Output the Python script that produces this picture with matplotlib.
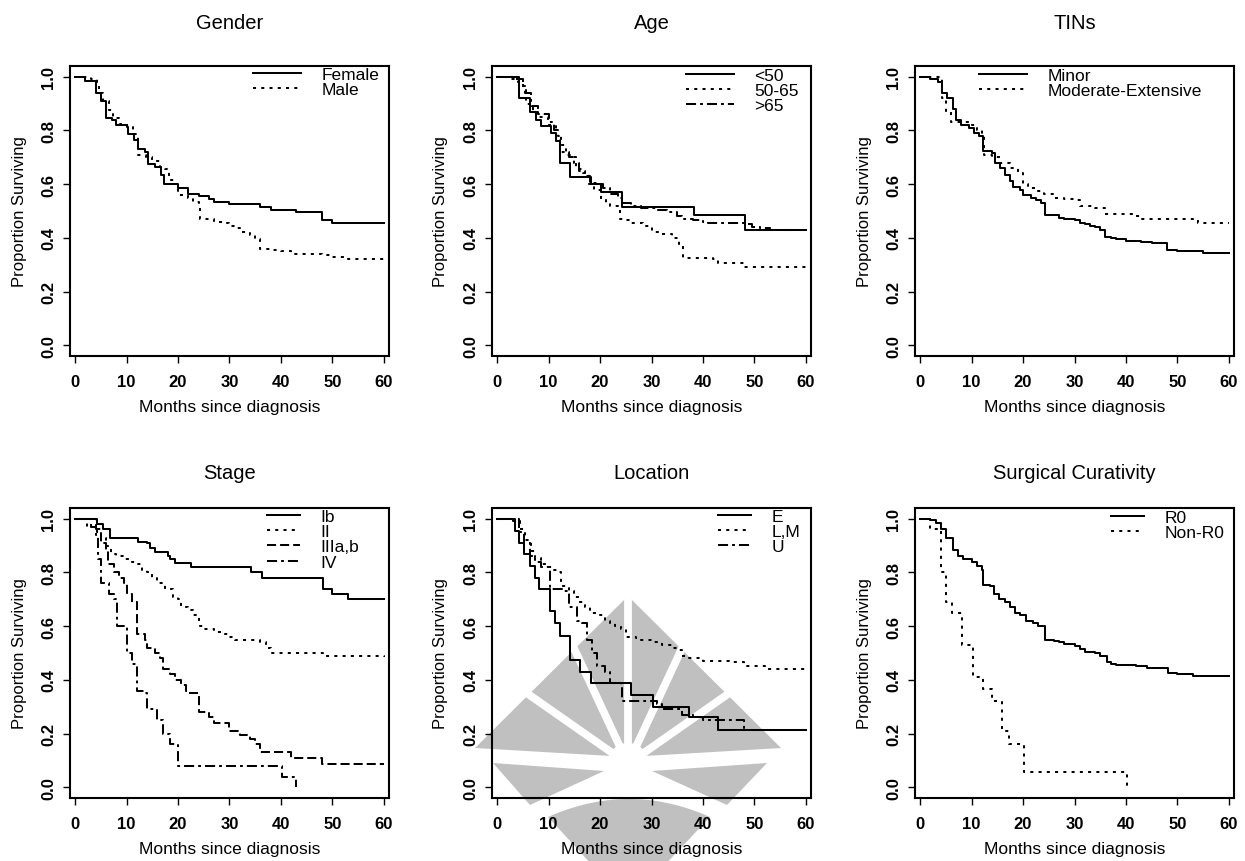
import numpy as np
import matplotlib
matplotlib.use("Agg")
import matplotlib.pyplot as plt
from matplotlib.patches import Polygon
from matplotlib.lines import Line2D

plt.rcParams['font.family'] = ['Liberation Sans', 'DejaVu Sans']

# ---------------- data (months, proportion surviving; step after each time) ----------------
female_t = [0, 2, 4.0, 5.0, 5.9, 7.2, 8.0, 10.0, 10.2, 11.5, 12.2, 13.5, 14.2, 15.5, 16.7, 17.2, 20, 22, 24, 26, 27, 30, 36, 38, 43, 48, 50, 60]
female_s = [1.0, 0.984, 0.938, 0.909, 0.847, 0.838, 0.822, 0.813, 0.785, 0.765, 0.73, 0.72, 0.675, 0.665, 0.635, 0.60, 0.585, 0.565, 0.555, 0.545, 0.535, 0.525, 0.515, 0.505, 0.495, 0.465, 0.455, 0.455]
male_t = [0, 3, 4.3, 4.6, 5.5, 6.5, 7.3, 8.5, 10, 11.2, 12.2, 13.8, 15, 16.5, 17.5, 18.2, 19.5, 20, 22, 23, 24, 24.2, 27, 29, 30, 31, 32, 34, 35, 36, 38.5, 40, 42, 48, 50, 53, 60]
male_s = [1.0, 0.99, 0.98, 0.94, 0.91, 0.875, 0.845, 0.825, 0.815, 0.785, 0.71, 0.70, 0.685, 0.665, 0.655, 0.615, 0.60, 0.56, 0.55, 0.535, 0.525, 0.47, 0.46, 0.455, 0.445, 0.435, 0.42, 0.41, 0.395, 0.36, 0.355, 0.35, 0.34, 0.335, 0.33, 0.32, 0.32]

age1_t = [0, 4.2, 6.3, 7.5, 8.6, 10.5, 11.5, 12.3, 14.2, 18.3, 20.2, 24.3, 38.3, 48.1, 51, 60]
age1_s = [1.0, 0.92, 0.87, 0.84, 0.815, 0.79, 0.76, 0.68, 0.625, 0.60, 0.57, 0.515, 0.485, 0.43, 0.428, 0.428]
age2_t = [0, 2.1, 4.1, 5.0, 5.7, 7.0, 8.0, 9.9, 11.5, 12.5, 13.4, 14.7, 15.4, 16.6, 17.9, 18.9, 20.2, 21.2, 22, 23.9, 25, 26, 28.3, 30, 32, 34, 35.4, 36.2, 42, 43, 48, 60]
age2_s = [1.0, 0.99, 0.98, 0.953, 0.90, 0.87, 0.85, 0.82, 0.78, 0.745, 0.71, 0.70, 0.655, 0.64, 0.60, 0.58, 0.545, 0.53, 0.52, 0.47, 0.465, 0.455, 0.445, 0.42, 0.415, 0.40, 0.375, 0.325, 0.32, 0.305, 0.29, 0.285]
age3_t = [0, 3, 5, 5.5, 6.5, 8, 10, 11, 11.8, 12.2, 14, 15, 16, 17, 18, 19.5, 20.5, 22, 23.5, 24.2, 26, 28, 31, 33, 35, 36, 38, 40, 41, 48, 49.5, 51, 53, 60]
age3_s = [1.0, 0.99, 0.965, 0.94, 0.89, 0.86, 0.83, 0.80, 0.78, 0.72, 0.70, 0.68, 0.65, 0.63, 0.605, 0.60, 0.585, 0.565, 0.55, 0.53, 0.52, 0.51, 0.505, 0.495, 0.48, 0.47, 0.465, 0.46, 0.455, 0.45, 0.44, 0.435, 0.43, 0.428]

minor_t = [0, 2, 3.5, 4.3, 5.3, 6.3, 7, 8, 9.5, 10.5, 11.5, 12.3, 14, 14.5, 15.5, 16.5, 17.5, 18, 19.5, 20, 21.5, 22.5, 23.5, 24.3, 27, 28, 30, 31, 32, 33, 34, 35, 36, 37, 38, 40, 43, 45, 48, 50, 55, 60]
minor_s = [1.0, 0.99, 0.98, 0.94, 0.92, 0.88, 0.84, 0.82, 0.81, 0.79, 0.78, 0.725, 0.715, 0.68, 0.66, 0.635, 0.61, 0.59, 0.58, 0.56, 0.55, 0.54, 0.53, 0.485, 0.475, 0.47, 0.465, 0.455, 0.45, 0.445, 0.44, 0.43, 0.405, 0.40, 0.395, 0.39, 0.385, 0.38, 0.355, 0.35, 0.345, 0.345]
modext_t = [0, 4, 4.2, 5, 6, 10, 11, 12, 12.5, 14, 15.5, 17.5, 19, 20, 21, 22.5, 24, 26, 28, 30, 31, 34, 36, 42, 43, 53, 54, 60]
modext_s = [1.0, 0.99, 0.92, 0.87, 0.83, 0.82, 0.80, 0.78, 0.71, 0.70, 0.68, 0.66, 0.64, 0.60, 0.585, 0.575, 0.565, 0.55, 0.545, 0.54, 0.52, 0.51, 0.49, 0.48, 0.47, 0.465, 0.455, 0.455]

ib_t = [0, 4.2, 5.5, 6.8, 12.2, 14, 14.5, 15.5, 18, 18.5, 19.5, 22.5, 34.2, 36.3, 48.2, 50, 53, 60]
ib_s = [1.0, 0.98, 0.96, 0.93, 0.915, 0.91, 0.89, 0.875, 0.86, 0.85, 0.835, 0.82, 0.80, 0.78, 0.74, 0.72, 0.70, 0.70]
ii_t = [0, 2.3, 4.3, 5, 6, 7, 8, 9.5, 11, 12, 13, 14, 15, 16, 17.5, 19, 20, 20.5, 22, 23, 24, 25, 27, 29, 30, 31, 36, 37, 38, 48.2, 60]
ii_s = [1.0, 0.97, 0.95, 0.93, 0.90, 0.87, 0.86, 0.85, 0.84, 0.83, 0.81, 0.80, 0.78, 0.76, 0.74, 0.71, 0.70, 0.67, 0.66, 0.64, 0.60, 0.59, 0.58, 0.57, 0.56, 0.55, 0.54, 0.52, 0.50, 0.49, 0.485]
iii_t = [0, 4, 5, 6, 6.3, 7.5, 8.5, 9.5, 10, 11, 12, 13.5, 14, 15.5, 16.5, 17, 18.5, 19.5, 20.5, 21.5, 22, 24, 26, 27, 30, 32, 34, 35, 36, 42, 48, 60]
iii_s = [1.0, 0.96, 0.91, 0.88, 0.83, 0.80, 0.78, 0.76, 0.72, 0.69, 0.57, 0.55, 0.52, 0.50, 0.48, 0.44, 0.42, 0.40, 0.38, 0.36, 0.35, 0.28, 0.26, 0.24, 0.21, 0.195, 0.18, 0.16, 0.13, 0.11, 0.085, 0.085]
iv_t = [0, 3, 4, 4.5, 5, 6.5, 7.5, 8.2, 10, 11, 12, 13.5, 14, 16, 17, 18.5, 20, 40.2, 43]
iv_s = [1.0, 0.97, 0.94, 0.85, 0.76, 0.72, 0.70, 0.60, 0.50, 0.46, 0.36, 0.35, 0.29, 0.25, 0.20, 0.16, 0.08, 0.04, 0.0]

e_t = [0, 3.5, 4.2, 5.3, 6.3, 7.3, 8.2, 10.2, 11.2, 12.2, 14.2, 16.2, 18.2, 26, 30.3, 37.3, 43, 60]
e_s = [1.0, 0.955, 0.91, 0.87, 0.825, 0.78, 0.74, 0.655, 0.61, 0.565, 0.475, 0.43, 0.39, 0.345, 0.30, 0.26, 0.215, 0.215]
lm_t = [0, 3, 4.5, 5.5, 6.5, 7.3, 8.5, 10, 11, 12, 12.5, 14, 15, 16, 17, 18, 20, 21, 22, 23, 24, 25, 27, 28, 30, 32, 34, 35, 36, 37, 40, 45, 48, 52, 60]
lm_s = [1.0, 0.99, 0.96, 0.92, 0.88, 0.855, 0.83, 0.82, 0.81, 0.80, 0.75, 0.73, 0.71, 0.69, 0.67, 0.65, 0.64, 0.62, 0.61, 0.60, 0.59, 0.56, 0.555, 0.55, 0.54, 0.53, 0.52, 0.51, 0.49, 0.48, 0.47, 0.465, 0.45, 0.44, 0.435]
u_t = [0, 4.2, 5.3, 6.3, 7.3, 8.5, 10.3, 13, 14, 15.5, 16.5, 17.5, 18.5, 19.5, 21, 22, 24, 24.2, 31, 32, 36, 38, 40, 48, 60]
u_s = [1.0, 0.95, 0.91, 0.86, 0.84, 0.82, 0.74, 0.73, 0.67, 0.62, 0.61, 0.55, 0.50, 0.45, 0.43, 0.39, 0.38, 0.32, 0.31, 0.29, 0.27, 0.26, 0.25, 0.215, 0.215]

r0_t = [0, 2, 3, 4, 5, 6.3, 7.3, 8.3, 10, 11, 12, 12.3, 13.5, 14.3, 15.3, 16.5, 17.5, 18.5, 19.5, 20.5, 22, 23, 24.2, 26, 27, 28, 30, 31, 32, 34, 35, 36.3, 37, 38, 42, 44, 48.2, 50, 53, 60]
r0_s = [1.0, 0.995, 0.985, 0.96, 0.93, 0.885, 0.86, 0.85, 0.84, 0.825, 0.81, 0.755, 0.75, 0.72, 0.70, 0.69, 0.67, 0.65, 0.64, 0.62, 0.61, 0.60, 0.55, 0.545, 0.54, 0.535, 0.525, 0.515, 0.505, 0.50, 0.49, 0.465, 0.46, 0.455, 0.45, 0.445, 0.425, 0.42, 0.415, 0.415]
nonr0_t = [0, 2, 4, 5, 6.2, 8.2, 10.2, 12.3, 14, 16, 17.2, 20.2, 40.2]
nonr0_s = [1.0, 0.96, 0.80, 0.69, 0.65, 0.53, 0.41, 0.365, 0.32, 0.21, 0.16, 0.055, 0.0]

titles = ["Gender", "Age", "TINs", "Stage", "Location", "Surgical Curativity"]

# line styles (R lty 1..4)
solid = '-'
dotted = (0, (1.5, 2.6))
dashed = (0, (4.5, 2))
dashdot = (0, (5, 2, 1.4, 2))

panels = [
    [(female_t, female_s, "Female", solid), (male_t, male_s, "Male", dotted)],
    [(age1_t, age1_s, "<50", solid), (age2_t, age2_s, "50-65", dotted), (age3_t, age3_s, ">65", dashdot)],
    [(minor_t, minor_s, "Minor", solid), (modext_t, modext_s, "Moderate-Extensive", dotted)],
    [(ib_t, ib_s, "Ib", solid), (ii_t, ii_s, "II", dotted), (iii_t, iii_s, "IIIa,b", dashed), (iv_t, iv_s, "IV", dashdot)],
    [(e_t, e_s, "E", solid), (lm_t, lm_s, "L,M", dotted), (u_t, u_s, "U", dashdot)],
    [(r0_t, r0_s, "R0", solid), (nonr0_t, nonr0_s, "Non-R0", dotted)],
]

# ---------------- layout (pixels) ----------------
W, H = 1245, 862
fig = plt.figure(figsize=(W / 100, H / 100), dpi=100)


def fxy(px, py):
    return px / W, 1 - py / H


col_left = [70, 492, 915]
row_top = [67, 509]
box_w, box_h = 319, 290
title_base = [29, 479]
# legend: left of the line sample, top of first row, handle length
leg_pos = [(253, 68), (686, 69), (979, 69), (267, 510), (718, 510), (1111, 511)]
leg_hl = [2.75, 2.75, 2.75, 1.9, 1.9, 1.9]

# ---------------- watermark (drawn under the axes) ----------------
wm_gray = '#c0c0c0'
cx, cy = 628, 765
arc_x = np.linspace(548, 710, 30)
arc_y = 800 + 18 * ((arc_x - 629) / 81) ** 2
wm_polys = [
    [(475, 749), (628, 597), (781, 749), (628, 758)],
    [(493, 764), (604, 772), (530, 806)],
    [(652, 772), (767, 764), (727, 806)],
    list(zip(arc_x, arc_y)) + [(628, 905)],
]
for poly in wm_polys:
    fig.add_artist(Polygon([fxy(x, y) for x, y in poly], closed=True, facecolor=wm_gray,
                           edgecolor='none', transform=fig.transFigure, zorder=-3))
for ang in [35, 65, 90, 115, 145]:
    a = np.radians(ang)
    x1, y1 = fxy(cx, cy)
    x2, y2 = fxy(cx + 180 * np.cos(a), cy - 180 * np.sin(a))
    fig.add_artist(Line2D([x1, x2], [y1, y2], color='white', lw=5.6,
                          transform=fig.transFigure, zorder=-2))
th = np.linspace(0, 2 * np.pi, 60)
fig.add_artist(Polygon([fxy(cx + 21 * np.cos(t), cy + 21 * np.sin(t)) for t in th], closed=True,
                       facecolor='white', edgecolor='none', transform=fig.transFigure, zorder=-2))

# ---------------- panels ----------------
for i, curves in enumerate(panels):
    r, c = divmod(i, 3)
    l, b = fxy(col_left[c], row_top[r] + box_h)
    ax = fig.add_axes([l, b, box_w / W, box_h / H])
    ax.set_facecolor('none')

    handles = []
    for t, s, lab, ls in curves:
        h, = ax.step(t, s, where='post', color='black', lw=1.45, linestyle=ls, label=lab)
        handles.append(h)

    ax.set_xlim(-1, 61)
    ax.set_ylim(-0.04, 1.04)
    ax.set_xticks(range(0, 61, 10))
    ax.set_yticks([0, 0.2, 0.4, 0.6, 0.8, 1.0])
    ax.set_yticklabels(['0.0', '0.2', '0.4', '0.6', '0.8', '1.0'])
    ax.tick_params(direction='out', length=5, width=1, labelsize=12, color='black')
    ax.tick_params(axis='x', pad=8)
    ax.tick_params(axis='y', pad=5, labelrotation=90)
    for lab in ax.get_yticklabels():
        lab.set_va('center')
    for lab in ax.get_xticklabels() + ax.get_yticklabels():
        lab.set_fontweight('bold')
    for sp in ax.spines.values():
        sp.set_linewidth(1.5)

    ax.set_xlabel("Months since diagnosis", fontsize=12.5)
    ax.xaxis.set_label_coords(0.5, -51 / box_h)
    ax.xaxis.label.set_va('center')
    ax.set_ylabel("Proportion Surviving", fontsize=12)
    ax.yaxis.set_label_coords(-51 / box_w, 0.5)
    ax.yaxis.label.set_va('center')

    tx, ty = fxy(col_left[c] + box_w / 2, title_base[r])
    fig.text(tx, ty, titles[i], fontsize=14.5, ha='center', va='baseline')

    lx, ly = fxy(*leg_pos[i])
    ax.legend(handles=handles, loc='upper left', bbox_to_anchor=(lx, ly),
              bbox_transform=fig.transFigure, frameon=False, borderpad=0,
              borderaxespad=0, handlelength=leg_hl[i], handletextpad=1.2,
              labelspacing=0.0, fontsize=12.5)

fig.savefig("out.png", dpi=100)
